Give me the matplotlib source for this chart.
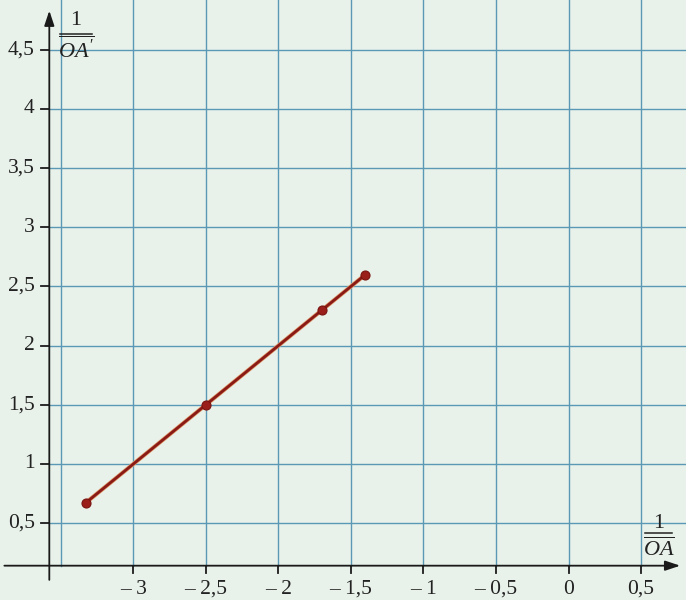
import matplotlib
matplotlib.use("Agg")
import matplotlib.pyplot as plt
import matplotlib.patheffects as pe

# Data: 1/OA (x) vs 1/OA' (y)
inv_oa = [-3.33, -2.5, -1.7, -1.4]
inv_oap = [0.67, 1.5, 2.3, 2.6]

x_ticks = [-3, -2.5, -2, -1.5, -1, -0.5, 0, 0.5]
x_tick_labels = ["– 3", "– 2,5", "– 2", "– 1,5", "– 1", "– 0,5", "0", "0,5"]
y_ticks = [0.5, 1, 1.5, 2, 2.5, 3, 3.5, 4, 4.5]
y_tick_labels = ["0,5", "1", "1,5", "2", "2,5", "3", "3,5", "4", "4,5"]
x_grid = [-3.5, -3, -2.5, -2, -1.5, -1, -0.5, 0, 0.5]

plt.rcParams['mathtext.fontset'] = 'custom'
plt.rcParams['mathtext.rm'] = 'Liberation Serif'
plt.rcParams['mathtext.it'] = 'Liberation Serif:italic'
plt.rcParams['font.family'] = ['Liberation Serif', 'DejaVu Serif']

bg = '#e8f2ea'
grid_c = '#5b98b6'
axis_c = '#1a1a1a'
txt_c = '#222222'

fig = plt.figure(figsize=(6.86, 6.00), dpi=100, facecolor=bg)
ax = fig.add_axes([0, 0, 1, 1])
ax.set_facecolor(bg)
ax.set_xlim(-3.92, 0.81)
ax.set_ylim(-0.15, 4.92)
ax.axis('off')

x_axis_y = 0.14
y_axis_x = -3.58

# grid
for gx in x_grid:
    ax.plot([gx, gx], [x_axis_y, 5.0], color=grid_c, lw=1.0, zorder=1)
for gy in y_ticks:
    ax.plot([y_axis_x, 0.9], [gy, gy], color=grid_c, lw=1.0, zorder=1)

# axes with arrows
ax.annotate('', xy=(0.77, x_axis_y), xytext=(-3.89, x_axis_y),
            arrowprops=dict(arrowstyle='-|>,head_length=0.9,head_width=0.3',
                            color=axis_c, lw=1.3, shrinkA=0, shrinkB=0), zorder=3)
ax.annotate('', xy=(y_axis_x, 4.83), xytext=(y_axis_x, 0.02),
            arrowprops=dict(arrowstyle='-|>,head_length=0.9,head_width=0.3',
                            color=axis_c, lw=1.3, shrinkA=0, shrinkB=0), zorder=3)

# ticks
for tx, tl in zip(x_ticks, x_tick_labels):
    ax.plot([tx, tx], [x_axis_y, x_axis_y - 0.065], color=axis_c, lw=1.3, zorder=3)
    ax.text(tx, x_axis_y - 0.2, tl, ha='center', va='center', fontsize=15.5,
            color=txt_c)
for ty, tl in zip(y_ticks, y_tick_labels):
    ax.plot([y_axis_x - 0.055, y_axis_x], [ty, ty], color=axis_c, lw=1.3, zorder=3)
    ax.text(y_axis_x - 0.1, ty, tl, ha='right', va='center', fontsize=15.5,
            color=txt_c)

# axis labels (built as fraction: numerator, bar, overlined denominator)
def frac_label(xc, y_num, y_bar, y_den, half_w, den):
    ax.text(xc, y_num, "1", ha='center', va='center', fontsize=16, color=txt_c)
    ax.plot([xc - half_w, xc + half_w], [y_bar, y_bar], color=txt_c, lw=1.1, zorder=3)
    ax.text(xc, y_den, den, ha='center', va='center', fontsize=16, color=txt_c)

frac_label(-3.395, 4.75, 4.635, 4.50, 0.11, r"$\overline{OA'}$")
frac_label(0.62, 0.50, 0.415, 0.28, 0.095, r"$\overline{OA}$")

# data
ax.plot(inv_oa, inv_oap, color='#8a1a16', lw=2.0, zorder=4, solid_capstyle='round',
        path_effects=[pe.Stroke(linewidth=3.0, foreground='#e0996a'), pe.Normal()])
ax.plot(inv_oa, inv_oap, ls='none', marker='o', markersize=6.5,
        markerfacecolor='#9a1e1a', markeredgecolor='#7a1410', markeredgewidth=0.8,
        zorder=5)

fig.savefig('out.png', dpi=100, facecolor=bg)
